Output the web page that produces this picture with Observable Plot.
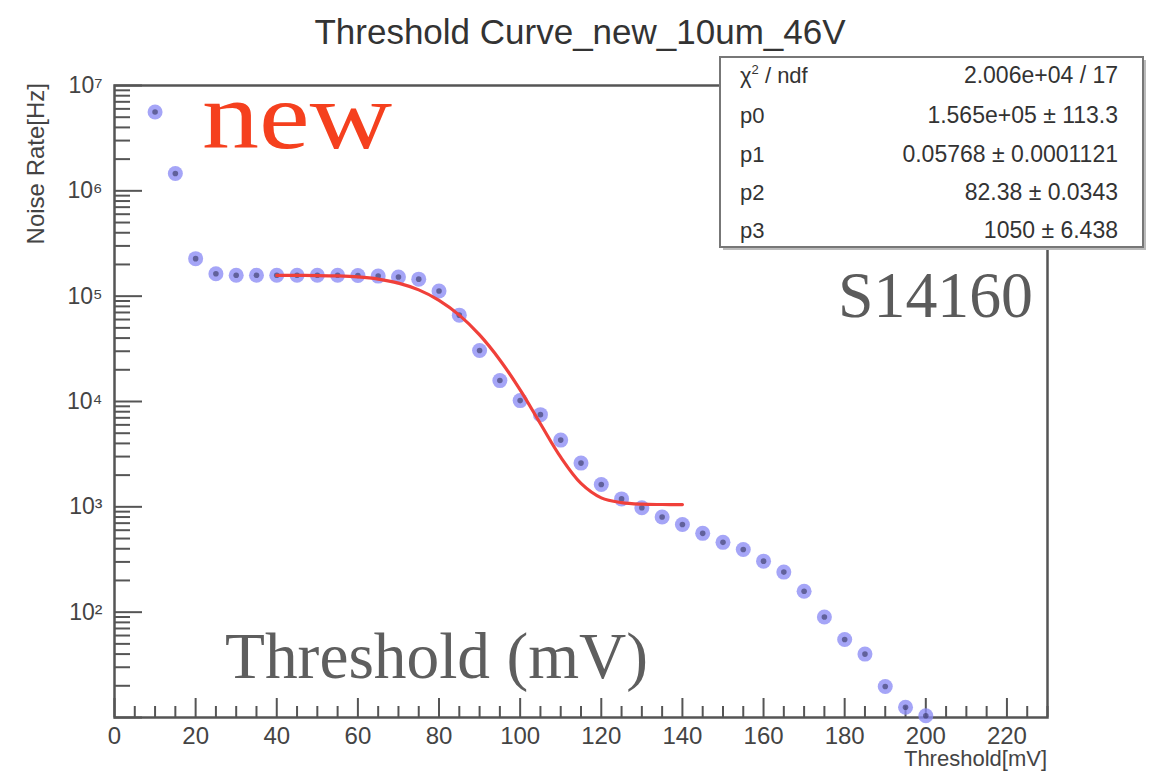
<!DOCTYPE html>
<html>
<head>
<meta charset="utf-8">
<script src="https://cdn.jsdelivr.net/npm/d3@7"></script>
<script src="https://cdn.jsdelivr.net/npm/@observablehq/plot@0.6"></script>
<style>
  html, body { margin: 0; padding: 0; background: #ffffff; }
  #chart { width: 1162px; height: 772px; }
</style>
</head>
<body>
<div id="chart"></div>
<script>
// Measured noise rate versus discriminator threshold
const thresholds = [10, 15, 20, 25, 30, 35, 40, 45, 50, 55, 60, 65, 70, 75, 80, 85, 90, 95, 100,
  105, 110, 115, 120, 125, 130, 135, 140, 145, 150, 155, 160, 165, 170, 175, 180, 185, 190, 195, 200];
const noiseRates = [5.6e6, 1.46e6, 2.27e5, 1.63e5, 1.58e5, 1.58e5, 1.58e5, 1.58e5, 1.58e5, 1.58e5,
  1.57e5, 1.55e5, 1.52e5, 1.45e5, 1.12e5, 6.6e4, 3.05e4, 1.58e4, 1.02e4,
  7.5e3, 4.3e3, 2.6e3, 1.63e3, 1.19e3, 980, 800, 680, 560, 460, 394, 305, 240, 158, 90, 55, 40, 19.7, 12.5, 10.4];

// Fitted curve (40-140 mV)
const fitThresholds = [40, 45, 50, 55, 60, 65, 70, 75, 80, 85, 90, 95, 100, 105, 110, 115, 120, 125, 130, 135, 140];
const fitRates = [157500, 157370, 156980, 155540, 152220, 145270, 133070, 114720, 91350, 66060,
  42870, 24810, 12880, 6144, 2959, 1668, 1217, 1096, 1059, 1052, 1050];

// Fit statistics box
const statNames = ["χ² / ndf", "p0", "p1", "p2", "p3"];
const statValues = ["2.006e+04 / 17", "1.565e+05 ± 113.3", "0.05768 ± 0.0001121", "82.38 ± 0.0343", "1050 ± 6.438"];

// Axis ticks
const xMajorTicks = [0, 20, 40, 60, 80, 100, 120, 140, 160, 180, 200, 220];
const xMinorTicks = d3.range(0, 231, 5).filter(v => v % 20 !== 0);
const yMajorTicks = [10, 1e2, 1e3, 1e4, 1e5, 1e6, 1e7];
const yMinorTicks = [10, 100, 1e3, 1e4, 1e5, 1e6].flatMap(p => d3.range(2, 10).map(m => m * p));
const yLabelTicks = [1e2, 1e3, 1e4, 1e5, 1e6, 1e7];
const yTickLabels = ["10²", "10³", "10⁴", "10⁵", "10⁶", "10⁷"];

const points = thresholds.map((t, i) => ({t, rate: noiseRates[i]}));
const fit = fitThresholds.map((t, i) => ({t, rate: fitRates[i]}));

const axisColor = "#555";
const sans = "'Liberation Sans', Arial, Helvetica, sans-serif";
const serif = "'Liberation Serif', 'Times New Roman', serif";

const plot = Plot.plot({
  width: 1162,
  height: 772,
  marginLeft: 114,
  marginRight: 115,
  marginTop: 85,
  marginBottom: 55,
  style: {fontFamily: sans, color: "#444", background: "#ffffff", overflow: "visible"},
  x: {domain: [0, 230]},
  y: {type: "log", domain: [10, 1e7]},
  marks: [
    Plot.frame({stroke: axisColor, strokeWidth: 2.5}),
    // inward-pointing ticks
    Plot.axisX({ticks: xMinorTicks, tickSize: -11, fill: "none", stroke: axisColor, strokeWidth: 2, label: null}),
    Plot.axisX({ticks: xMajorTicks, tickSize: -19, fill: "none", stroke: axisColor, strokeWidth: 2, label: null}),
    Plot.axisX({ticks: xMajorTicks, tickSize: 0, tickPadding: 9, fontSize: 24, fill: "#444", label: null,
      tickFormat: d => String(d)}),
    Plot.axisY({ticks: yMinorTicks, tickSize: -16, fill: "none", stroke: axisColor, strokeWidth: 2, label: null}),
    Plot.axisY({ticks: yMajorTicks, tickSize: -28, fill: "none", stroke: axisColor, strokeWidth: 2, label: null}),
    Plot.axisY({ticks: yLabelTicks, tickSize: 0, tickPadding: 12, fontSize: 23, fill: "#444", label: null,
      tickFormat: d => yTickLabels[yLabelTicks.indexOf(d)]}),
    // data points
    Plot.dot(points, {x: "t", y: "rate", r: 7.5, fill: "#8c8cf5", fillOpacity: 0.78}),
    Plot.dot(points, {x: "t", y: "rate", r: 2.8, fill: "#33335e", fillOpacity: 0.6}),
    // fit
    Plot.line(fit, {x: "t", y: "rate", stroke: "#f0403a", strokeWidth: 3.2, curve: "catmull-rom"})
  ]
});

document.getElementById("chart").appendChild(plot);

// Titles, stats box and annotations
const svg = d3.select(plot);
const ann = svg.append("g").attr("text-anchor", "start");

ann.append("text")
  .attr("x", 580).attr("y", 44)
  .attr("text-anchor", "middle")
  .attr("font-family", sans).attr("font-size", 35).attr("fill", "#333")
  .text("Threshold Curve_new_10um_46V");

ann.append("text")
  .attr("transform", "translate(44,83) rotate(-90)")
  .attr("text-anchor", "end")
  .attr("font-family", sans).attr("font-size", 24).attr("fill", "#444")
  .text("Noise Rate[Hz]");

ann.append("text")
  .attr("x", 1047).attr("y", 766)
  .attr("text-anchor", "end")
  .attr("font-family", sans).attr("font-size", 22).attr("fill", "#444")
  .text("Threshold[mV]");

// stats box
const box = ann.append("g");
box.append("rect").attr("x", 723).attr("y", 60).attr("width", 423).attr("height", 190).attr("fill", "#bbbbbb");
box.append("rect").attr("x", 720).attr("y", 57).attr("width", 423).attr("height", 190)
  .attr("fill", "#ffffff").attr("stroke", "#777").attr("stroke-width", 2);
const rowBaselines = [83, 123, 162, 200, 238];
statNames.forEach((name, i) => {
  const left = box.append("text")
    .attr("x", 740).attr("y", rowBaselines[i])
    .attr("text-anchor", "start")
    .attr("font-family", sans).attr("font-size", 22).attr("fill", "#333");
  if (name.startsWith("χ")) {
    left.append("tspan").text("χ");
    left.append("tspan").attr("font-size", 13).attr("dy", -9).text("2");
    left.append("tspan").attr("dy", 9).text(" / ndf");
  } else {
    left.text(name);
  }
  box.append("text")
    .attr("x", 1118).attr("y", rowBaselines[i])
    .attr("text-anchor", "end")
    .attr("font-family", sans).attr("font-size", 23).attr("fill", "#333")
    .text(statValues[i]);
});

ann.append("text")
  .attr("x", 202).attr("y", 148)
  .attr("text-anchor", "start")
  .attr("font-family", serif).attr("font-size", 96).attr("fill", "#f5401e")
  .attr("textLength", 190).attr("lengthAdjust", "spacingAndGlyphs")
  .text("new");

ann.append("text")
  .attr("x", 838).attr("y", 317)
  .attr("text-anchor", "start")
  .attr("font-family", serif).attr("font-size", 66).attr("fill", "#5b5b5b")
  .attr("textLength", 195).attr("lengthAdjust", "spacingAndGlyphs")
  .text("S14160");

ann.append("text")
  .attr("x", 225).attr("y", 678)
  .attr("text-anchor", "start")
  .attr("font-family", serif).attr("font-size", 65).attr("fill", "#5e5e5e")
  .attr("textLength", 423).attr("lengthAdjust", "spacingAndGlyphs")
  .text("Threshold (mV)");
</script>
</body>
</html>
